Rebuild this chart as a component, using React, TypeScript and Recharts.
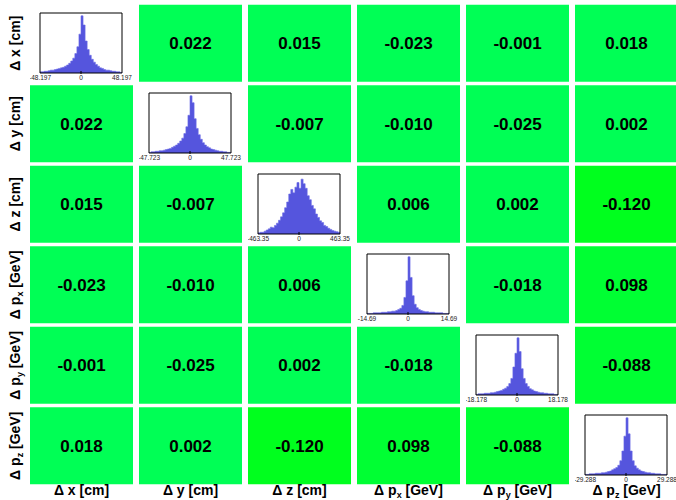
import React from "react";
import {
  ScatterChart,
  Scatter,
  AreaChart,
  Area,
  XAxis,
  YAxis,
  ReferenceArea,
  Label,
} from "recharts";

// variable names (main part, subscript, unit)
const varNames = [
  { base: "Δ x", sub: "", unit: " [cm]" },
  { base: "Δ y", sub: "", unit: " [cm]" },
  { base: "Δ z", sub: "", unit: " [cm]" },
  { base: "Δ p", sub: "x", unit: " [GeV]" },
  { base: "Δ p", sub: "y", unit: " [GeV]" },
  { base: "Δ p", sub: "z", unit: " [GeV]" },
];

// correlation matrix, row by row (null on the diagonal)
const corrRow0 = [null, 0.022, 0.015, -0.023, -0.001, 0.018];
const corrRow1 = [0.022, null, -0.007, -0.01, -0.025, 0.002];
const corrRow2 = [0.015, -0.007, null, 0.006, 0.002, -0.12];
const corrRow3 = [-0.023, -0.01, 0.006, null, -0.018, 0.098];
const corrRow4 = [-0.001, -0.025, 0.002, -0.018, null, -0.088];
const corrRow5 = [0.018, 0.002, -0.12, 0.098, -0.088, null];
const corrRows = [corrRow0, corrRow1, corrRow2, corrRow3, corrRow4, corrRow5];

// histogram ranges on the diagonal
const histRanges = [48.197, 47.723, 463.35, 14.69, 18.178, 29.288];

// histogram bin contents (40 bins each, relative height)
const histDx = [2, 2, 3, 3, 4, 5, 5, 6, 7, 8, 9, 10, 12, 14, 17, 21, 26, 34, 46, 68, 100, 84, 56, 41, 31, 24, 19, 15, 12, 9, 8, 6, 5, 5, 4, 3, 3, 2, 2, 1];
const histDy = [1, 2, 2, 3, 3, 4, 4, 5, 6, 7, 8, 10, 12, 14, 17, 21, 26, 34, 46, 66, 100, 88, 60, 43, 32, 24, 18, 14, 11, 9, 7, 6, 5, 4, 3, 3, 2, 2, 1, 1];
const histDz = [2, 3, 3, 5, 7, 9, 12, 11, 15, 19, 24, 30, 37, 46, 56, 70, 78, 72, 82, 90, 80, 96, 88, 80, 67, 60, 50, 44, 35, 29, 23, 20, 15, 13, 10, 8, 6, 5, 4, 3];
const histDpx = [1, 1, 1, 2, 2, 2, 2, 3, 3, 3, 4, 4, 5, 5, 6, 8, 10, 15, 29, 58, 100, 64, 32, 17, 11, 8, 6, 5, 4, 4, 3, 3, 3, 2, 2, 2, 2, 1, 1, 1];
const histDpy = [1, 2, 2, 2, 3, 3, 3, 4, 4, 5, 6, 7, 8, 10, 12, 15, 20, 29, 49, 73, 100, 76, 46, 29, 20, 15, 11, 9, 7, 6, 5, 4, 4, 3, 3, 2, 2, 2, 1, 1];
const histDpz = [1, 1, 2, 2, 2, 3, 3, 3, 4, 4, 5, 6, 7, 9, 11, 13, 17, 25, 42, 68, 100, 72, 42, 25, 16, 12, 9, 7, 6, 5, 4, 4, 3, 3, 2, 2, 2, 1, 1, 1];
const histograms = [histDx, histDy, histDz, histDpx, histDpy, histDpz];

const FONT = "'Liberation Sans', Arial, Helvetica, sans-serif";
const COL_PITCH = 109;
const ROW_PITCH = 80.4;
const HALF_W = 103 / COL_PITCH / 2;
const HALF_H = 77 / ROW_PITCH / 2;

const colorFor = (v: number) => {
  const a = Math.abs(v);
  if (a > 0.11) return "#00ff1e";
  if (a > 0.05) return "#00ff33";
  return "#00ff55";
};

const fmt = (v: number) => v.toFixed(3);

const VarText = ({ idx, ...rest }: any) => {
  const n = varNames[idx];
  return (
    <text fontFamily={FONT} fontWeight="bold" fontSize={14} fill="#000" {...rest}>
      <tspan>{n.base}</tspan>
      {n.sub && (
        <tspan fontSize={9} dy={3}>
          {n.sub}
        </tspan>
      )}
      <tspan dy={n.sub ? -3 : 0}>{n.unit}</tspan>
    </text>
  );
};

const ColTick = ({ x, y, payload }: any) => (
  <VarText idx={payload.value} x={x} y={y + 9} textAnchor="middle" />
);

const RowTick = ({ x, y, payload }: any) => (
  <VarText
    idx={payload.value}
    x={0}
    y={0}
    textAnchor="middle"
    transform={`translate(${x - 7},${y}) rotate(-90)`}
  />
);

const HistTick = ({ x, y, payload }: any) => (
  <g>
    {payload.value === 0 && <line x1={x} x2={x} y1={y - 2} y2={y + 1} stroke="#000" />}
    <text x={x} y={y + 7} textAnchor="middle" fontSize={6.5} fontFamily={FONT} fill="#222">
      {payload.value}
    </text>
  </g>
);

const toSteps = (values: number[], range: number) => {
  const w = (2 * range) / values.length;
  const pts = values.map((v, i) => ({ x: -range + i * w, v }));
  pts.push({ x: range, v: values[values.length - 1] });
  return pts;
};

const Histogram = ({ idx }: { idx: number }) => {
  const R = histRanges[idx];
  const data = toSteps(histograms[idx], R);
  return (
    <div
      style={{
        position: "absolute",
        left: 30 + COL_PITCH * idx,
        top: 5 + ROW_PITCH * idx,
      }}
    >
      <AreaChart width={103} height={77} data={data} margin={{ top: 8, left: 10, right: 11, bottom: 0 }}>
        <XAxis
          type="number"
          dataKey="x"
          domain={[-R, R]}
          ticks={[-R, 0, R]}
          interval={0}
          allowDataOverflow
          height={9}
          axisLine={false}
          tickLine={false}
          tickSize={0}
          tickMargin={0}
          tick={<HistTick />}
        />
        <YAxis hide domain={[0, 105]} />
        <Area
          type="stepAfter"
          dataKey="v"
          stroke="#6a6ae6"
          strokeWidth={0.6}
          fill="#5555dd"
          fillOpacity={1}
          isAnimationActive={false}
        />
        <ReferenceArea x1={-R} x2={R} y1={0} y2={105} fill="none" stroke="#000" strokeWidth={1} />
      </AreaChart>
    </div>
  );
};

export default function App() {
  const cells: { r: number; c: number; v: number }[] = [];
  corrRows.forEach((row, r) =>
    row.forEach((v, c) => {
      if (v !== null) cells.push({ r, c, v });
    })
  );
  const idxTicks = varNames.map((_, i) => i);

  return (
    <div
      style={{
        position: "absolute",
        left: 0,
        top: 0,
        width: 676,
        height: 500,
        overflow: "hidden",
        background: "#fff",
      }}
    >
      <ScatterChart width={684} height={500} margin={{ top: 3, right: 3, left: 0, bottom: 0 }}>
        <XAxis
          type="number"
          dataKey="c"
          domain={[-0.5, 5.5]}
          ticks={idxTicks}
          interval={0}
          allowDataOverflow
          height={14}
          axisLine={false}
          tickLine={false}
          tickSize={0}
          tickMargin={0}
          tick={<ColTick />}
        />
        <YAxis
          type="number"
          dataKey="r"
          domain={[-0.5, 5.5]}
          reversed
          ticks={idxTicks}
          interval={0}
          allowDataOverflow
          width={27}
          axisLine={false}
          tickLine={false}
          tickSize={0}
          tickMargin={0}
          tick={<RowTick />}
        />
        {cells.map((cell) => (
          <ReferenceArea
            key={`${cell.r}-${cell.c}`}
            x1={cell.c - HALF_W}
            x2={cell.c + HALF_W}
            y1={cell.r - HALF_H}
            y2={cell.r + HALF_H}
            fill={colorFor(cell.v)}
            fillOpacity={1}
            stroke="none"
            ifOverflow="visible"
          >
            <Label
              value={fmt(cell.v)}
              position="center"
              fill="#000"
              fontSize={17}
              fontWeight="bold"
              fontFamily={FONT}
            />
          </ReferenceArea>
        ))}
        <Scatter data={cells} shape={() => <g />} isAnimationActive={false} />
      </ScatterChart>
      {histograms.map((_, i) => (
        <Histogram key={i} idx={i} />
      ))}
    </div>
  );
}
